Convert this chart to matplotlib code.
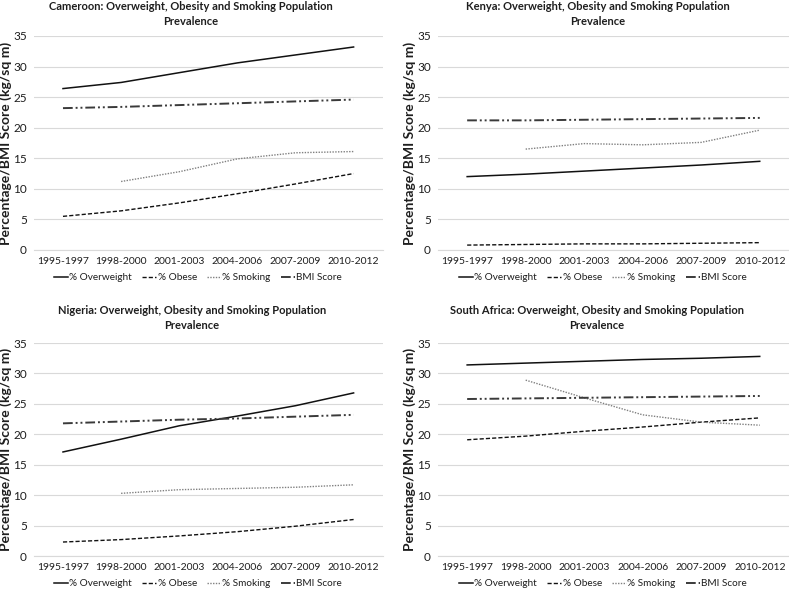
import matplotlib
matplotlib.use('Agg')
import matplotlib.pyplot as plt
import numpy as np

plt.rcParams['font.family'] = ['Lato', 'DejaVu Sans']

periods = ['1995-1997', '1998-2000', '2001-2003', '2004-2006', '2007-2009', '2010-2012']

countries = ['Cameroon', 'Kenya', 'Nigeria', 'South Africa']

cameroon_overweight = [26.4, 27.4, 29.0, 30.6, 31.9, 33.2]
cameroon_obese = [5.5, 6.4, 7.7, 9.2, 10.8, 12.5]
cameroon_smoking = [np.nan, 11.2, 12.8, 14.9, 15.9, 16.1]
cameroon_bmi = [23.2, 23.4, 23.7, 24.0, 24.3, 24.6]

kenya_overweight = [12.0, 12.4, 12.9, 13.4, 13.9, 14.5]
kenya_obese = [0.8, 0.9, 1.0, 1.0, 1.1, 1.2]
kenya_smoking = [np.nan, 16.5, 17.4, 17.2, 17.6, 19.6]
kenya_bmi = [21.2, 21.2, 21.3, 21.4, 21.5, 21.6]

nigeria_overweight = [17.1, 19.2, 21.4, 23.0, 24.7, 26.8]
nigeria_obese = [2.3, 2.7, 3.3, 4.0, 4.9, 6.0]
nigeria_smoking = [np.nan, 10.3, 10.9, 11.1, 11.3, 11.7]
nigeria_bmi = [21.8, 22.1, 22.4, 22.6, 22.9, 23.2]

safrica_overweight = [31.4, 31.7, 32.0, 32.3, 32.5, 32.8]
safrica_obese = [19.1, 19.7, 20.5, 21.2, 22.0, 22.7]
safrica_smoking = [np.nan, 28.9, 26.0, 23.2, 22.0, 21.5]
safrica_bmi = [25.8, 25.9, 26.0, 26.1, 26.2, 26.3]

series = {
    'Cameroon': (cameroon_overweight, cameroon_obese, cameroon_smoking, cameroon_bmi),
    'Kenya': (kenya_overweight, kenya_obese, kenya_smoking, kenya_bmi),
    'Nigeria': (nigeria_overweight, nigeria_obese, nigeria_smoking, nigeria_bmi),
    'South Africa': (safrica_overweight, safrica_obese, safrica_smoking, safrica_bmi),
}

TXT = '#1e1e1e'
GRID = '#d9d9d9'

fig = plt.figure(figsize=(7.89, 5.9), dpi=100)

# axes rectangles (fig fraction) and title centres (px)
rects = {
    'Cameroon': [0.043, 0.5763, 0.442, 0.3627],
    'Kenya': [0.555, 0.5763, 0.445, 0.3627],
    'Nigeria': [0.043, 0.0576, 0.442, 0.361],
    'South Africa': [0.555, 0.0576, 0.445, 0.361],
}
title_pos = {
    'Cameroon': (191, 1),
    'Kenya': (598, 1),
    'Nigeria': (192, 305),
    'South Africa': (597, 305),
}

x = np.arange(len(periods))
for c in countries:
    ow, ob, sm, bmi = series[c]
    ax = fig.add_axes(rects[c])
    ax.plot(x, ow, color='#111111', lw=1.1, label='% Overweight')
    ax.plot(x, ob, color='#111111', lw=1.0, dashes=(3, 1.5), label='% Obese')
    ax.plot(x, sm, color='#808080', lw=1.0, dashes=(1, 1), label='% Smoking')
    ax.plot(x, bmi, color='#3a3a3a', lw=1.4, dashes=(5, 1.5, 1, 1.5, 1, 1.5), label='BMI Score')

    ax.set_xlim(-0.5, 5.5)
    ax.set_ylim(0, 35)
    ax.set_yticks(range(0, 36, 5))
    ax.set_xticks(x)
    ax.set_xticklabels(periods, fontsize=7.5, color=TXT)
    ax.tick_params(axis='y', labelsize=8.5, colors=TXT, length=0, pad=5)
    ax.tick_params(axis='x', length=0, pad=5)
    ax.grid(True, axis='y', color=GRID, lw=0.8)
    ax.set_axisbelow(True)
    for s in ['top', 'right', 'left']:
        ax.spines[s].set_visible(False)
    ax.spines['bottom'].set_color(GRID)
    ax.spines['bottom'].set_linewidth(0.8)

    ax.set_ylabel('Percentage/BMI Score (kg/sq m)', fontsize=10, fontweight='bold', color=TXT)
    ax.yaxis.set_label_coords(-0.062, 0.5)

    leg = ax.legend(loc='center', bbox_to_anchor=(0.47, -0.13), ncol=4, frameon=False,
                    fontsize=7.2, handlelength=1.4, handletextpad=0.15, columnspacing=1.0)
    for t in leg.get_texts():
        t.set_color(TXT)

    tx, ty = title_pos[c]
    fig.text(tx / 789, 1 - ty / 590,
             f'{c}: Overweight, Obesity and Smoking Population\nPrevalence',
             ha='center', va='top', fontsize=8, fontweight='bold', color=TXT,
             linespacing=1.4)

fig.savefig('out.png', dpi=100)
